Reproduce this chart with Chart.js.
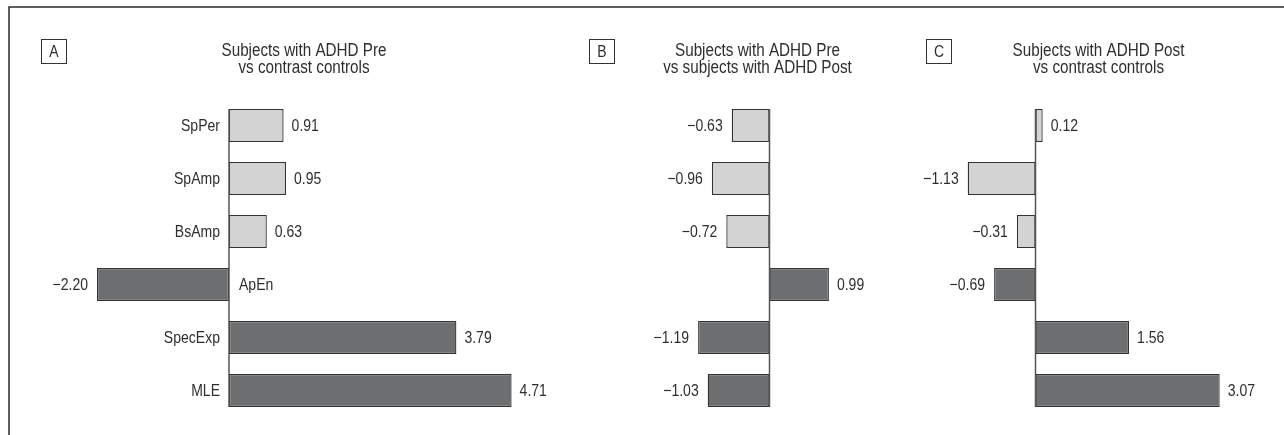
<!DOCTYPE html>
<html>
<head>
<meta charset="utf-8">
<script src="https://cdn.jsdelivr.net/npm/chart.js@4.4.1/dist/chart.umd.min.js"></script>
<style>
  html, body { margin: 0; padding: 0; background: #ffffff; }
  #wrap { position: relative; width: 1284px; height: 435px; overflow: hidden; background: #ffffff; }
  #wrap canvas { position: absolute; left: 0; top: 0; }
</style>
</head>
<body>
<div id="wrap">
  <canvas id="panelA" width="1284" height="435"></canvas>
  <canvas id="panelB" width="1284" height="435"></canvas>
  <canvas id="panelC" width="1284" height="435"></canvas>
</div>
<script>
// EEG measures compared in each panel (top to bottom)
const metrics = ['SpPer', 'SpAmp', 'BsAmp', 'ApEn', 'SpecExp', 'MLE'];

// Effect values per comparison
const preVsControls  = [0.91, 0.95, 0.63, -2.20, 3.79, 4.71];
const preVsPost      = [-0.63, -0.96, -0.72, 0.99, -1.19, -1.03];
const postVsControls = [0.12, -1.13, -0.31, -0.69, 1.56, 3.07];

// Panel letters and two-line headings
const panelLetters = ['A', 'B', 'C'];
const panelTitles = [
  ['Subjects with ADHD Pre', 'vs contrast controls'],
  ['Subjects with ADHD Pre', 'vs subjects with ADHD Post'],
  ['Subjects with ADHD Post', 'vs contrast controls']
];

const FONT = '"Liberation Sans", Arimo, Arial, sans-serif';
const INK = '#2e2e2e';
const LIGHT = '#d3d3d3';
const DARK = '#6d6e70';
const EDGE = '#333333';
// first three measures are drawn light, the last three dark
const barFills = metrics.map((m, i) => (i < 3 ? LIGHT : DARK));

// Condensed text: a sans face squeezed horizontally
function condensedText(ctx, text, x, y, align, size, squeeze) {
  ctx.save();
  ctx.translate(x, y);
  ctx.scale(squeeze, 1);
  ctx.font = size + 'px ' + FONT;
  ctx.textAlign = align;
  ctx.textBaseline = 'middle';
  ctx.fillText(text, 0, 0);
  ctx.restore();
}

// Outer frame: rule along the top and the left edge
const framePlugin = {
  id: 'frame',
  beforeDraw(chart) {
    const ctx = chart.ctx;
    ctx.save();
    ctx.strokeStyle = '#2a2a2a';
    ctx.lineWidth = 1.5;
    ctx.beginPath();
    ctx.moveTo(9, chart.height);
    ctx.lineTo(9, 7);
    ctx.lineTo(chart.width, 7);
    ctx.stroke();
    ctx.restore();
  }
};

// Zero line, value labels, category labels, heading and the panel letter box
const annotatePlugin = {
  id: 'annotate',
  afterDatasetsDraw(chart, args, opts) {
    const ctx = chart.ctx;
    const bars = chart.getDatasetMeta(0).data;
    const values = chart.data.datasets[0].data;
    const x0 = chart.scales.x.getPixelForValue(0);
    const area = chart.chartArea;
    ctx.save();

    const first = bars[0];
    const last = bars[bars.length - 1];
    ctx.strokeStyle = opts.axisColor;
    ctx.lineWidth = 1.5;
    ctx.beginPath();
    ctx.moveTo(x0, first.y - first.height / 2);
    ctx.lineTo(x0, last.y + last.height / 2);
    ctx.stroke();

    ctx.fillStyle = INK;
    const fs = opts.fontSize, sq = opts.squeeze;
    bars.forEach((bar, i) => {
      const v = values[i];
      const txt = (v < 0 ? '\u2212' : '') + Math.abs(v).toFixed(2);
      if (v >= 0) {
        condensedText(ctx, txt, bar.x + 8, bar.y + 1, 'left', fs, sq);
      } else {
        condensedText(ctx, txt, bar.x - 9, bar.y + 1, 'right', fs, sq);
      }
      if (opts.showCategories) {
        const name = chart.data.labels[i];
        if (v >= 0) {
          condensedText(ctx, name, x0 - 9, bar.y + 1, 'right', fs, sq);
        } else {
          condensedText(ctx, name, x0 + 10, bar.y + 1, 'left', fs, sq);
        }
      }
    });

    // two-line heading centred over the plotting area
    const cx = (area.left + area.right) / 2;
    opts.heading.forEach((line, k) => {
      condensedText(ctx, line, cx, opts.headingY + k * opts.headingGap, 'center', opts.headingSize, opts.headingSqueeze);
    });

    const b = opts.letterBox;
    ctx.strokeStyle = '#333333';
    ctx.lineWidth = 1;
    ctx.strokeRect(b.x + 0.5, b.y + 0.5, b.w, b.h);
    condensedText(ctx, opts.letter, b.x + b.w / 2 + 0.5, b.y + b.h / 2 + 1, 'center', fs, sq);
    ctx.restore();
  }
};

function makePanel(canvasId, idx, values, xMin, xMax, padLeft, padRight, letterX, showCategories, extraPlugins) {
  return new Chart(document.getElementById(canvasId), {
    type: 'bar',
    data: {
      labels: metrics,
      datasets: [{
        data: values,
        backgroundColor: barFills,
        borderColor: EDGE,
        borderWidth: 1.3,
        borderSkipped: false,
        categoryPercentage: 1.0,
        barPercentage: 0.62
      }]
    },
    options: {
      indexAxis: 'y',
      responsive: false,
      animation: false,
      events: [],
      layout: { padding: { left: padLeft, right: padRight, top: 99, bottom: 18 } },
      scales: {
        x: { type: 'linear', min: xMin, max: xMax, display: false },
        y: { display: false }
      },
      plugins: {
        legend: { display: false },
        tooltip: { enabled: false },
        title: { display: false },
        annotate: {
          axisColor: '#555555',
          fontSize: 16.5,
          squeeze: 0.85,
          showCategories: showCategories,
          heading: panelTitles[idx],
          headingY: 51,
          headingGap: 17.5,
          headingSize: 17.5,
          headingSqueeze: 0.87,
          letter: panelLetters[idx],
          letterBox: { x: letterX, y: 39, w: 25, h: 24 }
        }
      }
    },
    plugins: [annotatePlugin].concat(extraPlugins || [])
  });
}

makePanel('panelA', 0, preVsControls, -3, 5.5, 49, 725, 41, true, [framePlugin]);
makePanel('panelB', 1, preVsPost, -3, 2.6, 589.5, 358.5, 589, false);
makePanel('panelC', 2, postVsControls, -1.9, 4.0, 921.5, 8.5, 926, false);
</script>
</body>
</html>
